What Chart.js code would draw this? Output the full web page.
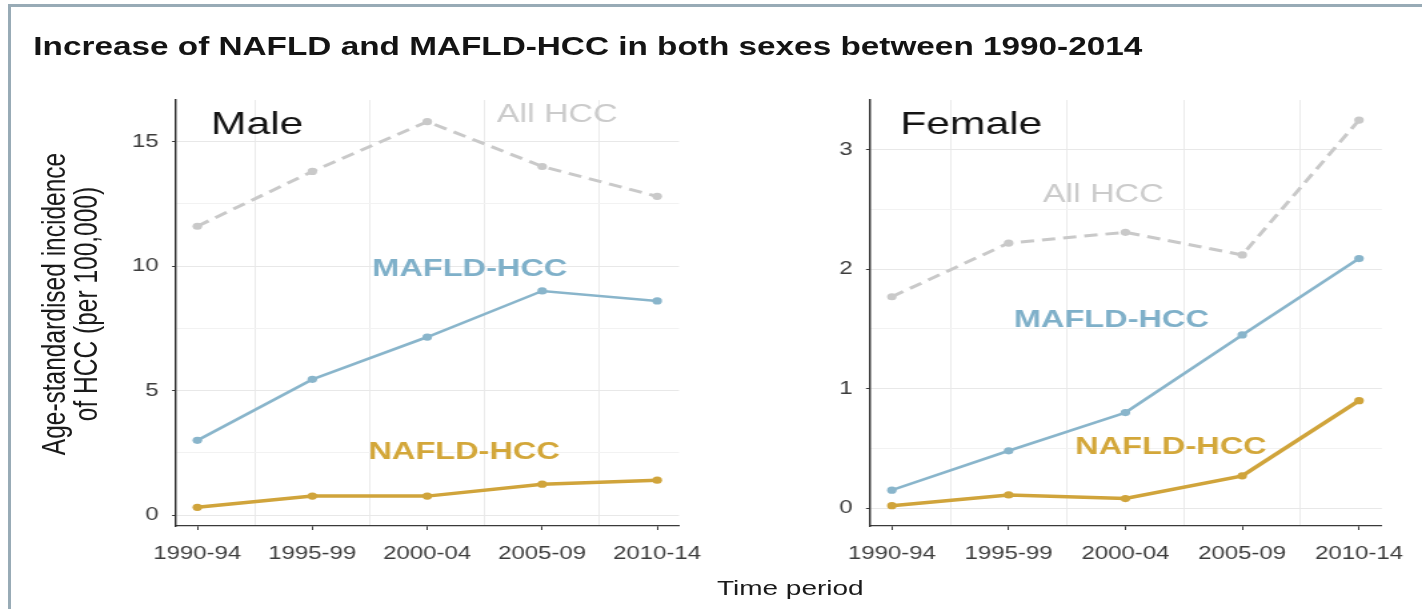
<!DOCTYPE html>
<html>
<head>
<meta charset="utf-8">
<script src="https://cdn.jsdelivr.net/npm/chart.js@4.4.1/dist/chart.umd.min.js"></script>
<style>
  html, body { margin: 0; padding: 0; background: #fff; overflow: hidden; }
  #frame { position: absolute; left: 0; top: 0; width: 1422px; height: 609px; overflow: hidden; background: #fff; }
  #edgeTop { position: absolute; left: 8px; top: 4px; width: 1414px; height: 3px; background: #98abb6; }
  #edgeLeft { position: absolute; left: 8px; top: 4px; width: 3px; height: 605px; background: #98abb6; }
  /* the figure is laid out on a 1067px stage and widened to the full frame */
  #stage { position: absolute; left: 0; top: 0; width: 1067px; height: 609px;
           transform: scaleX(1.33271); transform-origin: 0 0;
           font-family: "Liberation Sans", Arial, Helvetica, sans-serif; }
  #stage canvas { position: absolute; top: 0; }
  #title { position: absolute; left: 25px; top: 34px; font-size: 25px; line-height: 25px;
           font-weight: bold; color: #141414; white-space: nowrap; }
  #ytitle { position: absolute; left: -146.7px; top: 280px; width: 400px; height: 48px;
            font-size: 24.5px; line-height: 24px; text-align: center; color: #1a1a1a;
            transform: rotate(-90deg); white-space: nowrap; }
  #xtitle { position: absolute; left: 443px; width: 300px; top: 577px; font-size: 21px;
            line-height: 21px; text-align: center; color: #1a1a1a; white-space: nowrap; }
</style>
</head>
<body>
<div id="frame">
  <div id="edgeTop"></div>
  <div id="edgeLeft"></div>
  <div id="stage">
    <div id="title">Increase of NAFLD and MAFLD-HCC in both sexes between 1990-2014</div>
    <div id="ytitle">Age-standardised incidence<br>of HCC (per 100,000)</div>
    <div id="xtitle">Time period</div>
    <canvas id="male" width="540" height="609" style="left:0px;width:540px;height:609px"></canvas>
    <canvas id="female" width="527" height="609" style="left:540px;width:527px;height:609px"></canvas>
  </div>
</div>
<script>
// Time periods on the x axis
const periods = ['1990-94', '1995-99', '2000-04', '2005-09', '2010-14'];

// Age-standardised incidence of HCC per 100,000 — men
const maleAllHcc   = [11.6, 13.8, 15.8, 14.0, 12.8];
const maleMafldHcc = [3.0, 5.45, 7.15, 9.0, 8.6];
const maleNafldHcc = [0.31, 0.76, 0.76, 1.24, 1.4];

// Age-standardised incidence of HCC per 100,000 — women
const femaleAllHcc   = [1.77, 2.22, 2.31, 2.12, 3.25];
const femaleMafldHcc = [0.15, 0.48, 0.80, 1.45, 2.09];
const femaleNafldHcc = [0.02, 0.11, 0.08, 0.27, 0.90];

// Labelled y ticks for each panel
const maleYTicks   = [0, 5, 10, 15];
const femaleYTicks = [0, 1, 2, 3];

const GREY = '#c9c9c9';
const BLUE = '#89b5cb';
const GOLD = '#d0a43b';
const FONT = '"Liberation Sans", Arial, Helvetica, sans-serif';

// Text placed inside each panel, anchored in data units
const inlineLabels = {
  id: 'inlineLabels',
  afterDatasetsDraw(chart, args, opts) {
    const { ctx } = chart;
    const x = chart.scales.x, y = chart.scales.y;
    ctx.save();
    ctx.textAlign = 'center';
    ctx.textBaseline = 'middle';
    for (const it of opts.items) {
      ctx.font = it.font;
      ctx.fillStyle = it.color;
      ctx.fillText(it.text, x.getPixelForValue(it.x), y.getPixelForValue(it.y));
    }
    ctx.restore();
  }
};

function series(label, values, color, extra) {
  return Object.assign({
    label,
    data: values.map((v, i) => ({ x: i, y: v })),
    borderColor: color,
    backgroundColor: color,
    pointBackgroundColor: color,
    pointBorderWidth: 0,
    pointRadius: 3.6,
    tension: 0,
    fill: false,
    xAxisID: 'x',
    yAxisID: 'y'
  }, extra);
}

function drawPanel(id, p) {
  const majors = p.yTicks;
  const step = majors[1] - majors[0];
  const gridVals = [];
  for (let i = 0; i < majors.length; i++) {
    gridVals.push(majors[i]);
    if (i < majors.length - 1) gridVals.push(majors[i] + step / 2);
  }
  const isMajor = v => majors.includes(v);

  new Chart(document.getElementById(id), {
    type: 'line',
    data: {
      datasets: [
        series('NAFLD-HCC', p.nafld, GOLD, { borderWidth: 3.5 }),
        series('MAFLD-HCC', p.mafld, BLUE, { borderWidth: 2.6 }),
        series('All HCC', p.all, GREY, { borderWidth: 3, borderDash: [10, 6] })
      ]
    },
    options: {
      responsive: false,
      animation: false,
      devicePixelRatio: 1,
      layout: { padding: { left: p.padLeft, right: p.padRight, top: 100, bottom: 38 } },
      plugins: {
        legend: { display: false },
        tooltip: { enabled: false },
        inlineLabels: { items: p.labels }
      },
      scales: {
        x: {
          type: 'linear',
          position: 'bottom',
          min: p.xMin, max: p.xMax,
          afterBuildTicks: s => { s.ticks = periods.map((_, i) => ({ value: i })); },
          afterFit: s => { s.height = 45; },
          ticks: {
            callback: v => periods[v],
            autoSkip: false, maxRotation: 0, minRotation: 0,
            padding: 13,
            color: '#3c3c3c',
            font: { family: FONT, size: 18 }
          },
          grid: { drawOnChartArea: false, drawTicks: true, tickLength: 4, tickColor: '#3a3a3a', tickWidth: 1 },
          border: { display: true, color: '#3a3a3a', width: 1.3 }
        },
        xg: {
          type: 'linear',
          axis: 'x',
          position: 'bottom',
          min: p.xMin, max: p.xMax,
          afterBuildTicks: s => { s.ticks = [0.5, 1.5, 2.5, 3.5].map(v => ({ value: v })); },
          afterFit: s => { s.height = 0; },
          ticks: { display: false },
          grid: { drawTicks: false, color: '#ebebeb', lineWidth: 1 },
          border: { display: false }
        },
        y: {
          type: 'linear',
          min: p.yMin, max: p.yMax,
          afterBuildTicks: s => { s.ticks = gridVals.map(v => ({ value: v })); },
          afterFit: s => { s.width = 40; },
          ticks: {
            callback: v => (isMajor(v) ? String(v) : ''),
            padding: 10,
            color: '#3c3c3c',
            font: { family: FONT, size: 18 }
          },
          grid: {
            color: c => (isMajor(c.tick.value) ? '#e8e8e8' : '#f2f2f2'),
            tickColor: c => (isMajor(c.tick.value) ? '#3a3a3a' : 'rgba(0,0,0,0)'),
            tickLength: 3,
            lineWidth: 1
          },
          border: { display: true, color: '#2a2a2a', width: 1.4 }
        }
      }
    },
    plugins: [inlineLabels]
  });
}

drawPanel('male', {
  all: maleAllHcc, mafld: maleMafldHcc, nafld: maleNafldHcc,
  yTicks: maleYTicks,
  xMin: -0.186, xMax: 4.19,
  yMin: -0.44, yMax: 16.67,
  padLeft: 92.06, padRight: 20,
  labels: [
    { text: 'Male',      x: 0.52, y: 15.66, font: '32px ' + FONT,        color: '#141414' },
    { text: 'All HCC',   x: 3.13, y: 16.06, font: '25.5px ' + FONT,      color: '#cbcbcb' },
    { text: 'MAFLD-HCC', x: 2.37, y: 9.88,  font: 'bold 24.4px ' + FONT, color: '#7fb0c9' },
    { text: 'NAFLD-HCC', x: 2.32, y: 2.53,  font: 'bold 24.4px ' + FONT, color: '#d3a73a' }
  ]
});

drawPanel('female', {
  all: femaleAllHcc, mafld: femaleMafldHcc, nafld: femaleNafldHcc,
  yTicks: femaleYTicks,
  xMin: -0.187, xMax: 4.196,
  yMin: -0.15, yMax: 3.418,
  padLeft: 72.8, padRight: 27.8,
  labels: [
    { text: 'Female',    x: 0.68, y: 3.21, font: '32px ' + FONT,        color: '#141414' },
    { text: 'All HCC',   x: 1.81, y: 2.62, font: '25.5px ' + FONT,      color: '#cbcbcb' },
    { text: 'MAFLD-HCC', x: 1.88, y: 1.57, font: 'bold 24.4px ' + FONT, color: '#7fb0c9' },
    { text: 'NAFLD-HCC', x: 2.39, y: 0.51, font: 'bold 24.4px ' + FONT, color: '#d3a73a' }
  ]
});
</script>
</body>
</html>
